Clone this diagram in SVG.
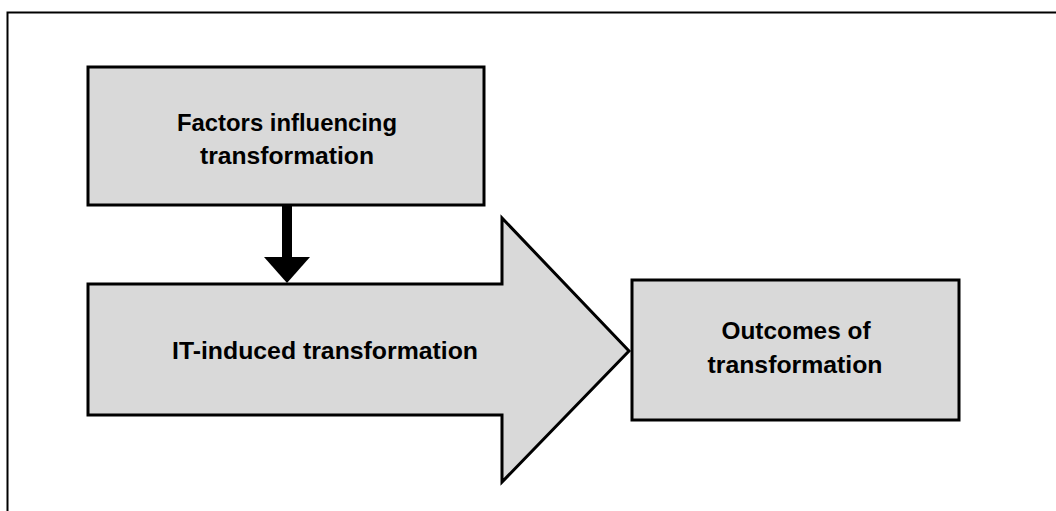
<svg xmlns="http://www.w3.org/2000/svg" width="1056" height="511" viewBox="0 0 1056 511">
<style>
.box{fill:#d9d9d9;stroke:#000;stroke-width:3}
.lbl{font-family:"Liberation Sans",Arial,sans-serif;font-weight:bold;font-size:24px;fill:#000;text-anchor:middle}
</style>
<rect width="1056" height="511" fill="#fff"/>
<rect x="7.5" y="12.5" width="1060" height="510" fill="none" stroke="#000" stroke-width="2"/>
<g id="it-induced">
<polygon class="box" points="88,284 502,284 502,218 629,351 502,482 502,415 88,415"/>
<text class="lbl" x="325" y="359" textLength="306" lengthAdjust="spacingAndGlyphs">IT-induced transformation</text>
</g>
<g id="factors">
<rect class="box" x="88" y="67" width="396" height="138"/>
<text class="lbl" x="287" y="131" textLength="220" lengthAdjust="spacingAndGlyphs">Factors influencing</text>
<text class="lbl" x="287" y="164" textLength="174" lengthAdjust="spacingAndGlyphs">transformation</text>
</g>
<g id="outcomes">
<rect class="box" x="632" y="280" width="327" height="140"/>
<text class="lbl" x="796" y="339" textLength="149" lengthAdjust="spacingAndGlyphs">Outcomes of</text>
<text class="lbl" x="795" y="373" textLength="175" lengthAdjust="spacingAndGlyphs">transformation</text>
</g>
<g id="connectors">
<rect x="282" y="206" width="10" height="52" fill="#000"/>
<polygon points="264,257 310,257 287,283" fill="#000"/>
</g>
</svg>
